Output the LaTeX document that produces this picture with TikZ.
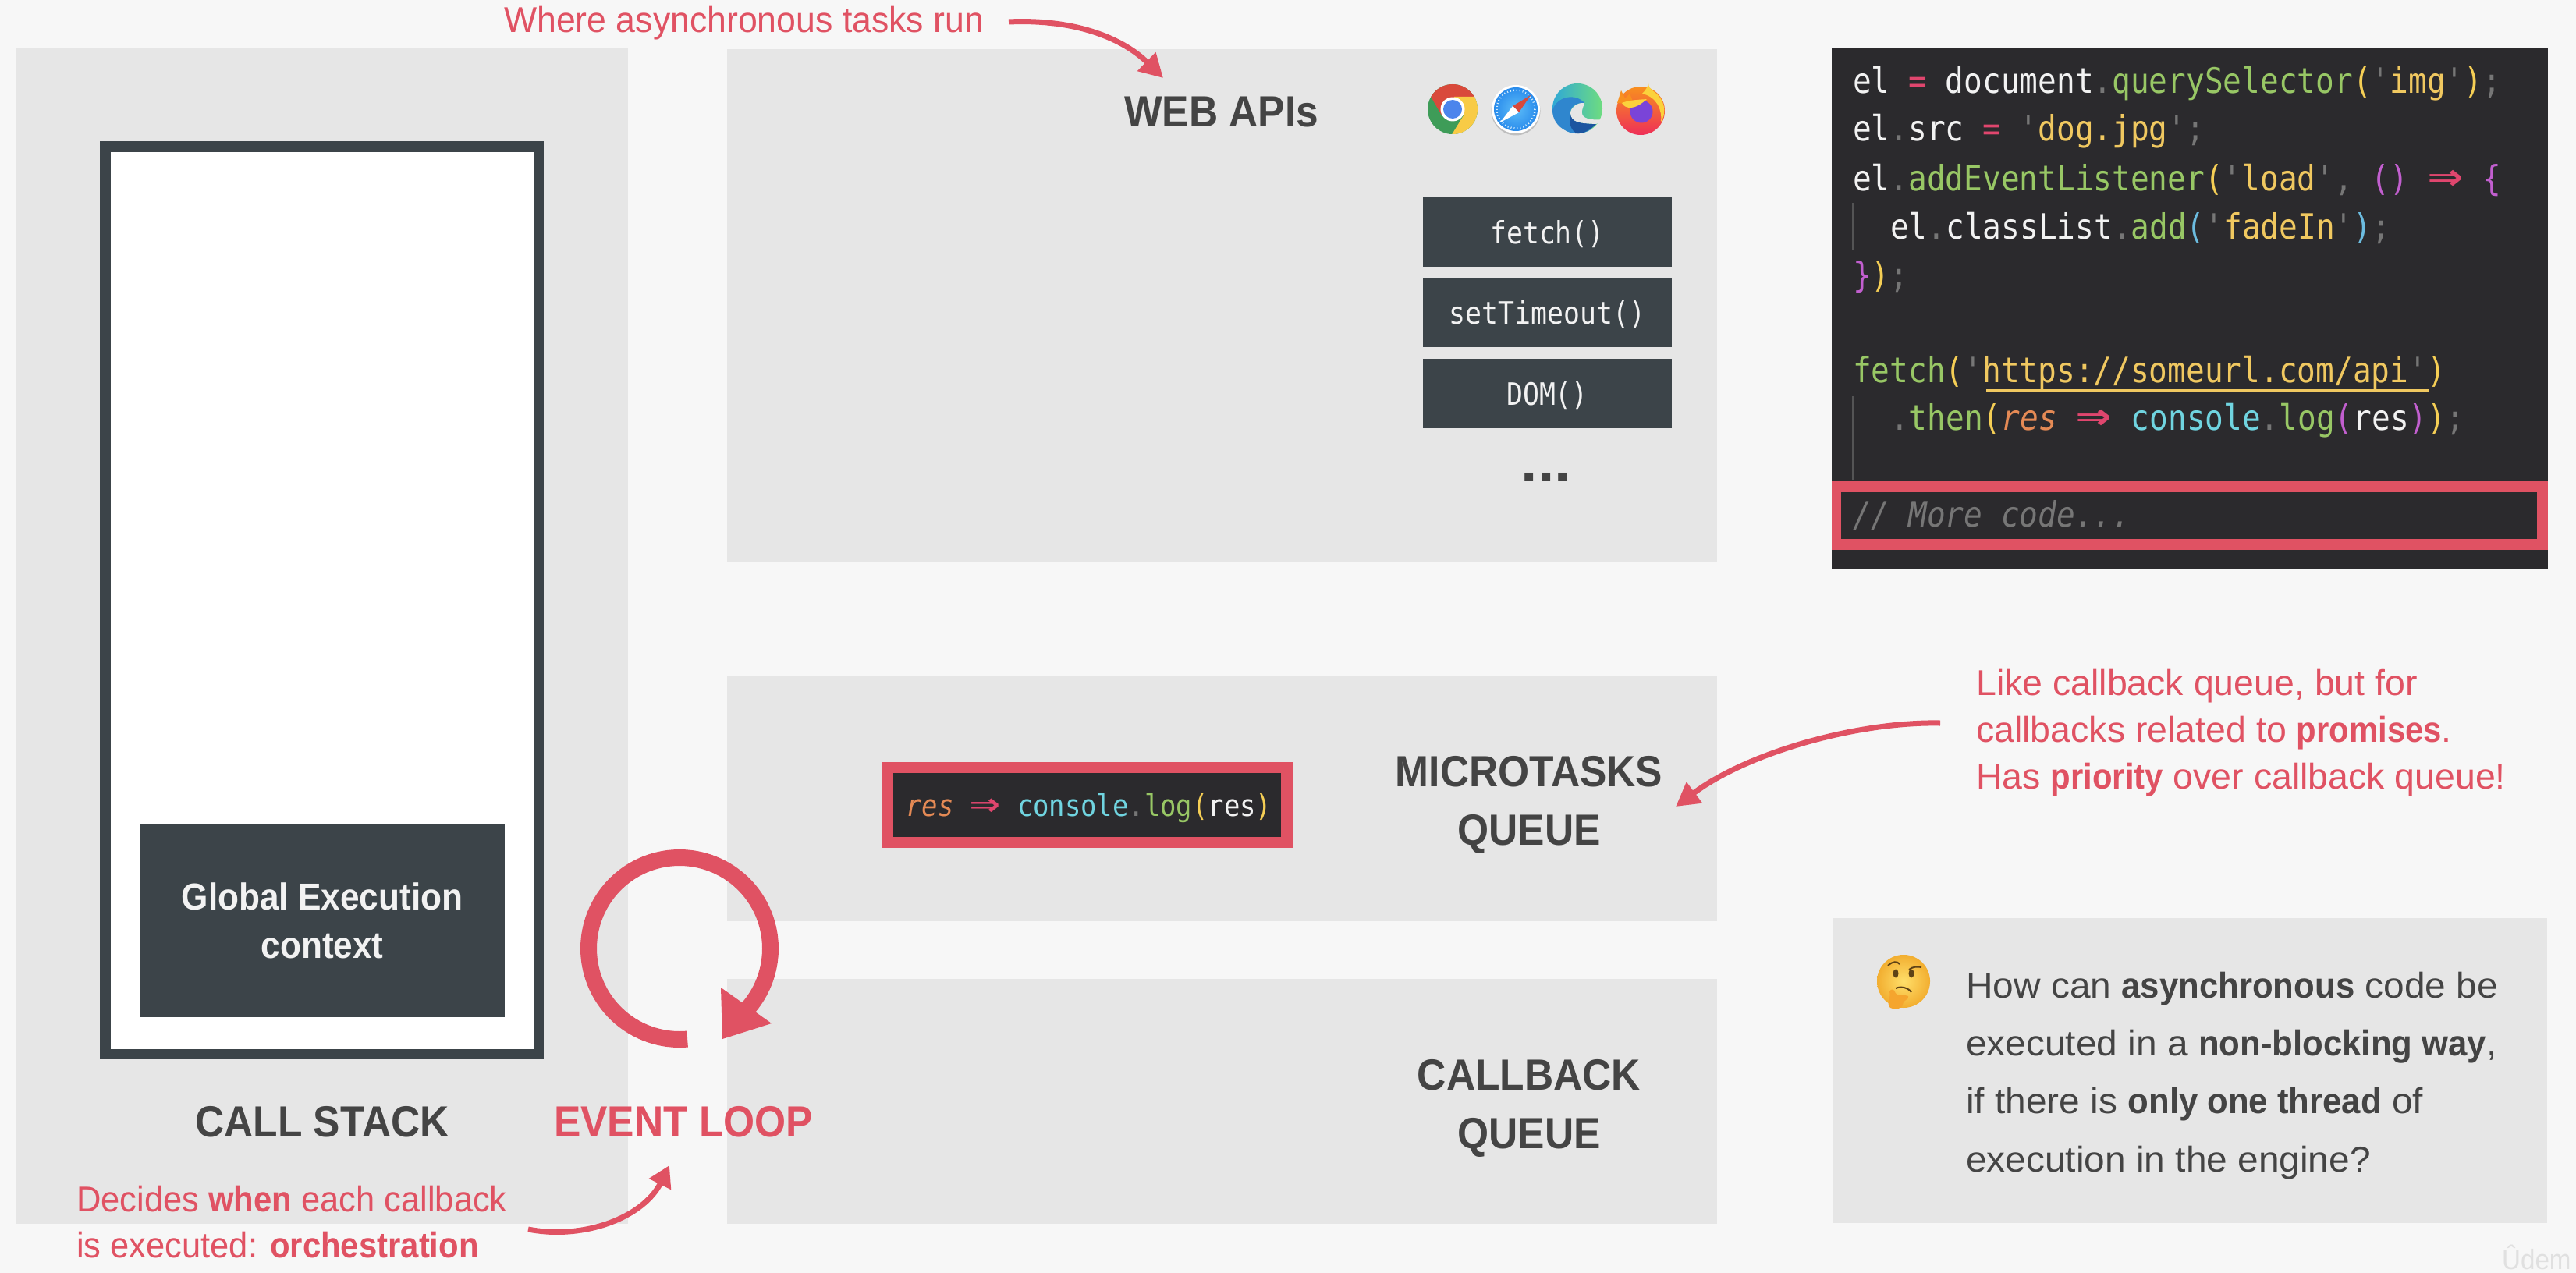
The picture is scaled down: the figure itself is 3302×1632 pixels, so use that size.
\documentclass[tikz,border=0pt]{standalone}
\usepackage{fontspec}
\usetikzlibrary{arrows.meta}
\setmainfont{Liberation Sans}[FakeStretch=0.92]
\newfontfamily\cod{DejaVu Sans Mono}[FakeStretch=0.88]
\newfontfamily\fr{Liberation Sans}[FakeStretch=1.01]
\newfontfamily\fw{Liberation Sans}[FakeStretch=0.97]
\newfontfamily\fd{Liberation Sans}[FakeStretch=0.945]
\newfontfamily\fq{Liberation Sans}[FakeStretch=1.04]
\newfontfamily\fb{Liberation Sans}[FakeStretch=0.91]
\newfontfamily\fqb{Liberation Sans}[FakeStretch=0.95]
\newcommand\bb[1]{{\fb\bfseries #1}}
\newcommand\qb[1]{{\fqb\bfseries #1}}
\definecolor{bgc}{HTML}{F7F7F7}
\definecolor{pan}{HTML}{E6E6E6}
\definecolor{redc}{HTML}{E05263}
\definecolor{slate}{HTML}{3C4449}
\definecolor{ink}{HTML}{444444}
\definecolor{codebg}{HTML}{2B2A2D}
\definecolor{cwh}{HTML}{F2F2F2}
\definecolor{cdim}{HTML}{767676}
\definecolor{cpk}{HTML}{E0466E}
\definecolor{cgr}{HTML}{98C765}
\definecolor{cye}{HTML}{F5CE55}
\definecolor{cgo}{HTML}{F0C860}
\definecolor{cpu}{HTML}{C25FCF}
\definecolor{ccy}{HTML}{70D4E0}
\definecolor{cbl}{HTML}{6CBCE0}
\definecolor{cor}{HTML}{E58A55}
\definecolor{HTMLgreen}{HTML}{3E9C58}
\definecolor{HTMLred}{HTML}{D9493B}
\definecolor{HTMLyellow}{HTML}{F8CB46}
\definecolor{HTMLblue}{HTML}{4C85EC}
\definecolor{HTMLsky}{HTML}{5CBCF8}
\definecolor{HTMLsafari}{HTML}{2A8CEC}
\definecolor{HTMLteal}{HTML}{2FA8D6}
\definecolor{HTMLmint}{HTML}{6EDC80}
\definecolor{HTMLedge}{HTML}{2F86CE}
\definecolor{HTMLnavy}{HTML}{1C55A0}
\definecolor{HTMLfoxo}{HTML}{F8901F}
\definecolor{HTMLfoxr}{HTML}{EE2F58}
\definecolor{HTMLfoxy}{HTML}{FBD23C}
\definecolor{HTMLpurple}{HTML}{7A44D8}
\definecolor{HTMLemoa}{HTML}{FFDF6A}
\definecolor{HTMLemob}{HTML}{F2AE30}
\definecolor{HTMLface}{HTML}{5E4216}
\definecolor{HTMLhand}{HTML}{F5A52E}
\newcommand\cc[2]{\textcolor{#1}{#2}}
\newcommand\arw{\cc{cpk}{\makebox[1.06em]{\scalebox{1.9}[1.3]{\bfseries ⇒}}}}
\newcommand\bx[7]{%
  \pgfmathsetmacro\bxw{#4-#2}\pgfmathsetmacro\bxh{#5-#3}%
  \pgfmathsetmacro\bxx{(#4+#2)/2}\pgfmathsetmacro\bxy{(#5+#3)/2}%
  \node[#6,inner sep=0pt,outer sep=0pt,minimum width=\bxw pt,minimum height=\bxh pt] (#1) at (\bxx,\bxy) {#7};}
\tikzset{
  x=1pt,y=-1pt,
  panel/.style={fill=pan},
  slatebox/.style={fill=slate,text=cwh},
  monobtn/.style={slatebox,font=\cod\fontsize{39.5}{46}\selectfont,text height=42pt,text depth=13pt},
  heading/.style={text=ink,inner sep=0pt,font=\bfseries\fontsize{56}{75}\selectfont,align=center},
  note/.style={text=redc,inner sep=0pt,anchor=base west},
  codeline/.style={anchor=base west,inner sep=0pt,font=\cod\fontsize{44.8}{52}\selectfont,text=cwh},
  small code/.style={anchor=base west,inner sep=0pt,font=\cod\fontsize{38.5}{46}\selectfont,text=cwh},
  qline/.style={anchor=base west,inner sep=0pt,text=ink,font=\fq\fontsize{46}{74}\selectfont},
  curved/.style={draw=redc,line width=7pt,-{Triangle[length=30pt,width=32pt,fill=redc]}},
}
\begin{document}
\begin{tikzpicture}
\useasboundingbox (0,0) rectangle (3302,1632);
\fill[bgc] (0,0) rectangle (3302,1632);

% panels
\bx{stackpanel}{21}{61}{805}{1569}{panel}{}
\bx{webpanel}{932}{63}{2201}{721}{panel}{}
\bx{micropanel}{932}{866}{2201}{1181}{panel}{}
\bx{callbackpanel}{932}{1255}{2201}{1569}{panel}{}
\bx{questionpanel}{2349}{1177}{3265}{1568}{panel}{}

% call stack
\bx{frameouter}{128}{181}{697}{1358}{fill=slate}{}
\bx{frameinner}{142}{195}{684}{1345}{fill=white}{}
\bx{globalctx}{179}{1057}{647}{1304}{slatebox,font=\bfseries\fontsize{48}{62}\selectfont,align=center}{Global Execution\\context}
\node[heading,anchor=base] (callstack) at (413,1457) {CALL STACK};

% web APIs
\node[heading,anchor=base west] (webapis) at (1441,163) {WEB APIs};
\bx{fetchbtn}{1824}{253}{2143}{342}{monobtn}{fetch()}
\bx{timeoutbtn}{1824}{357}{2143}{445}{monobtn}{setTimeout()}
\bx{dombtn}{1824}{460}{2143}{549}{monobtn}{DOM()}
\node[anchor=base,inner sep=0pt,text=ink,font=\fq\bfseries\fontsize{74}{80}\selectfont] (more) at (1982,617) {...};

% chrome
\begin{scope}[shift={(1862,140)}]
  \begin{scope}
    \clip (0,0) circle[radius=32];
    \fill[HTMLgreen] (-40,-40) rectangle (40,40);
    \fill[HTMLred] (60,-60) -- (60,-15) -- (0,-15) -- (-14,8) -- (-40,-37) -- (-40,-60) -- cycle;
    \fill[HTMLyellow] (2,-16) -- (60,-16) -- (60,60) -- (-18,60) -- (14,8) -- cycle;
  \end{scope}
  \fill[white] (0,0) circle[radius=15.5];
  \fill[HTMLblue] (0,0) circle[radius=12];
\end{scope}
% safari
\begin{scope}[shift={(1943,140)}]
  \fill[black!25] (0,2) circle[radius=31.5];
  \fill[white] (0,0) circle[radius=31];
  \shade[inner color=HTMLsky,outer color=HTMLsafari] (0,0) circle[radius=28];
  \draw[white!75!HTMLsky,line width=2.5pt,dash pattern=on 1pt off 3pt] (0,0) circle[radius=24.5];
  \fill[HTMLred] (19,-18) -- (-4,-4) -- (4,4) -- cycle;
  \fill[white] (-20,17) -- (-4,-4) -- (4,4) -- cycle;
\end{scope}
% edge
\begin{scope}[shift={(2022,139)}]
  \shade[left color=HTMLteal,right color=HTMLmint] (0,0) circle[radius=32];
  \fill[HTMLedge] (-32,2) .. controls (-26,-16) and (-2,-20) .. (9,-7) .. controls (-6,-8) and (-12,2) .. (-8,12)
     .. controls (-4,24) and (10,30) .. (17,27) .. controls (6,34) and (-6,33) .. (-14,29) .. controls (-26,23) and (-32,14) .. (-32,2) -- cycle;
  \fill[HTMLnavy] (-9,6) .. controls (-8,18) and (2,19) .. (24,20) .. controls (18,27) and (6,33) .. (0,32) .. controls (-8,30) and (-12,18) .. (-9,6) -- cycle;
  \fill[pan] (9,-7) .. controls (-1,-8) and (-9,0) .. (-9,6) .. controls (-8,18) and (2,19) .. (24,20) -- (33,14) .. controls (24,15) and (8,15) .. (6,7) .. controls (5,2) and (8,-3) .. (9,-7) -- cycle;
\end{scope}
% firefox
\begin{scope}[shift={(2103,140)}]
  \shade[top color=HTMLfoxo,bottom color=HTMLfoxr] (0,2) circle[radius=31];
  \fill[HTMLfoxy] (10,-34) .. controls (10,-24) and (18,-24) .. (24,-16) .. controls (32,-6) and (32,8) .. (26,16) .. controls (28,0) and (20,-16) .. (2,-20) .. controls (6,-24) and (9,-28) .. (10,-34) -- cycle;
  \fill[HTMLfoxo] (-30,-8) -- (-25,-24) -- (-20,-14) -- (-14,-20) -- (-8,-6) -- cycle;
  \fill[HTMLpurple] (1,3) circle[radius=14.5];
  \fill[HTMLfoxy] (-24,-8) .. controls (-14,-12) and (-4,-12) .. (8,-13) .. controls (0,-6) and (-6,-2) .. (-14,-2) .. controls (-18,-2) and (-22,-4) .. (-24,-8) -- cycle;
\end{scope}

% code panel
\bx{codebox}{2348}{61}{3266}{729}{fill=codebg}{}
\bx{moreouter}{2348}{617}{3266}{705}{fill=redc}{}
\bx{moreinner}{2360}{631}{3252}{691}{fill=codebg}{}
\coordinate (guideAa) at (2375,260); \coordinate (guideAb) at (2375,320);
\coordinate (guideBa) at (2375,508); \coordinate (guideBb) at (2375,616);
\draw[draw=cdim!55!codebg,line width=1.5pt] (guideAa) -- (guideAb);
\draw[draw=cdim!55!codebg,line width=1.5pt] (guideBa) -- (guideBb);
\node[codeline] (lineA) at (2375,120) {el \cc{cpk}{=} document\cc{cdim}{.}\cc{cgr}{querySelector}\cc{cye}{(}\cc{cdim}{'}\cc{cgo}{img}\cc{cdim}{'}\cc{cye}{)}\cc{cdim}{;}};
\node[codeline] (lineB) at (2375,181) {el\cc{cdim}{.}src \cc{cpk}{=} \cc{cdim}{'}\cc{cgo}{dog.jpg}\cc{cdim}{';}};
\node[codeline] (lineC) at (2375,244) {el\cc{cdim}{.}\cc{cgr}{addEventListener}\cc{cye}{(}\cc{cdim}{'}\cc{cgo}{load}\cc{cdim}{',} \cc{cpu}{()} \arw{} \cc{cpu}{\{}};
\node[codeline] (lineD) at (2423,306) {el\cc{cdim}{.}classList\cc{cdim}{.}\cc{cgr}{add}\cc{cbl}{(}\cc{cdim}{'}\cc{cgo}{fadeIn}\cc{cdim}{'}\cc{cbl}{)}\cc{cdim}{;}};
\node[codeline] (lineE) at (2375,368) {\cc{cpu}{\}}\cc{cye}{)}\cc{cdim}{;}};
\node[codeline] (lineF) at (2375,490) {\cc{cgr}{fetch}\cc{cye}{(}\cc{cdim}{'}\cc{cgo}{https://someurl.com/api}\cc{cdim}{'}\cc{cye}{)}};
\coordinate (urlA) at (2546,500); \coordinate (urlB) at (3113,500);
\draw[cgo,line width=3pt] (urlA) -- (urlB);
\node[codeline] (lineG) at (2423,551) {\cc{cdim}{.}\cc{cgr}{then}\cc{cye}{(}\cc{cor}{\itshape res} \arw{} \cc{ccy}{console}\cc{cdim}{.}\cc{cgr}{log}\cc{cpu}{(}res\cc{cpu}{)}\cc{cye}{)}\cc{cdim}{;}};
\node[codeline,text=cdim] (lineH) at (2375,675) {\itshape // More code...};

% microtask
\bx{resouter}{1130}{977}{1657}{1087}{fill=redc}{}
\bx{resinner}{1145}{991}{1642}{1073}{fill=codebg}{}
\node[small code] (restext) at (1161,1046) {\cc{cor}{\itshape res} \arw{} \cc{ccy}{console}\cc{cdim}{.}\cc{cgr}{log}\cc{cye}{(}res\cc{cye}{)}};
\node[heading,anchor=base] (microlabelA) at (1960,1008) {MICROTASKS};
\node[heading,anchor=base] (microlabelB) at (1960,1083) {QUEUE};
\node[heading,anchor=base] (cblabelA) at (1960,1397) {CALLBACK};
\node[heading,anchor=base] (cblabelB) at (1960,1472) {QUEUE};

% event loop
\coordinate (loopc) at (871,1216);
\draw[redc,line width=21pt,line cap=butt] plot[domain=85:401,samples=120,smooth] ({871+116.5*cos(\x)},{1216+116.5*sin(\x)});
\coordinate (loopA) at (924,1266); \coordinate (loopB) at (989,1312); \coordinate (loopC) at (926,1332);
\fill[redc] (loopA) -- (loopB) -- (loopC) -- cycle;
\node[heading,anchor=base west,text=redc] (eventloop) at (710,1457) {EVENT LOOP};

% notes and arrows
\node[note,font=\fw\fontsize{46}{60}\selectfont] (whereA) at (646,42) {Where asynchronous tasks run};
\coordinate (whereS) at (1293,28); \coordinate (whereT) at (1491,100);
\draw[curved] (whereS) .. controls (1380,24) and (1440,50) .. (whereT);

\node[note,font=\fr\fontsize{46}{60}\selectfont] (likeA) at (2533,891) {Like callback queue, but for};
\node[note,font=\fr\fontsize{46}{60}\selectfont] (likeB) at (2533,951) {callbacks related to \bb{promises}.};
\node[note,font=\fr\fontsize{46}{60}\selectfont] (likeC) at (2533,1011) {Has \bb{priority} over callback queue!};
\coordinate (likeS) at (2487,927); \coordinate (likeT) at (2148,1034);
\draw[curved] (likeS) .. controls (2380,925) and (2240,965) .. (likeT);

\node[note,font=\fd\fontsize{46}{60}\selectfont] (decA) at (98,1553) {Decides \bb{when} each callback};
\node[note,font=\fd\fontsize{46}{60}\selectfont] (decB) at (98,1612) {is executed: \bb{orchestration}};
\coordinate (decS) at (677,1576); \coordinate (decT) at (858,1494);
\draw[curved,-{Triangle[length=27pt,width=30pt,fill=redc]}] (decS) .. controls (750,1590) and (825,1560) .. (decT);

% question
\begin{scope}[shift={(2440,1258)}]
  \shade[inner color=HTMLemoa,outer color=HTMLemob] (0,0) circle[radius=34];
  \fill[HTMLface] (-10,-10) ellipse[x radius=3.5,y radius=5.5];
  \fill[HTMLface] (10,-10) ellipse[x radius=3.5,y radius=5.5];
  \draw[HTMLface,line width=2pt] (-20,-20) .. controls (-14,-26) and (-8,-26) .. (-5,-22);
  \draw[HTMLface,line width=2pt] (7,-15) .. controls (12,-19) and (18,-19) .. (23,-18);
  \draw[HTMLface,line width=2pt] (-10,9) .. controls (-4,6) and (6,8) .. (10,14);
  \fill[HTMLhand] (-18,13) .. controls (-16,9) and (-12,10) .. (-11,14) .. controls (-9,20) and (-3,16) .. (6,19)
     .. controls (8,24) and (-2,24) .. (-1,30) .. controls (-2,36) and (-14,37) .. (-18,33) .. controls (-22,28) and (-16,22) .. (-18,13) -- cycle;
\end{scope}
\node[qline] (qA) at (2520,1279) {How can \qb{asynchronous} code be};
\node[qline] (qB) at (2520,1353) {executed in a \qb{non-blocking way},};
\node[qline] (qC) at (2520,1427) {if there is \qb{only one thread} of};
\node[qline] (qD) at (2520,1502) {execution in the engine?};

\node[anchor=base west,inner sep=0pt,text=white!88!black,font=\fontsize{36}{40}\selectfont] (wm) at (3207,1627) {Ûdem};
\end{tikzpicture}
\end{document}
